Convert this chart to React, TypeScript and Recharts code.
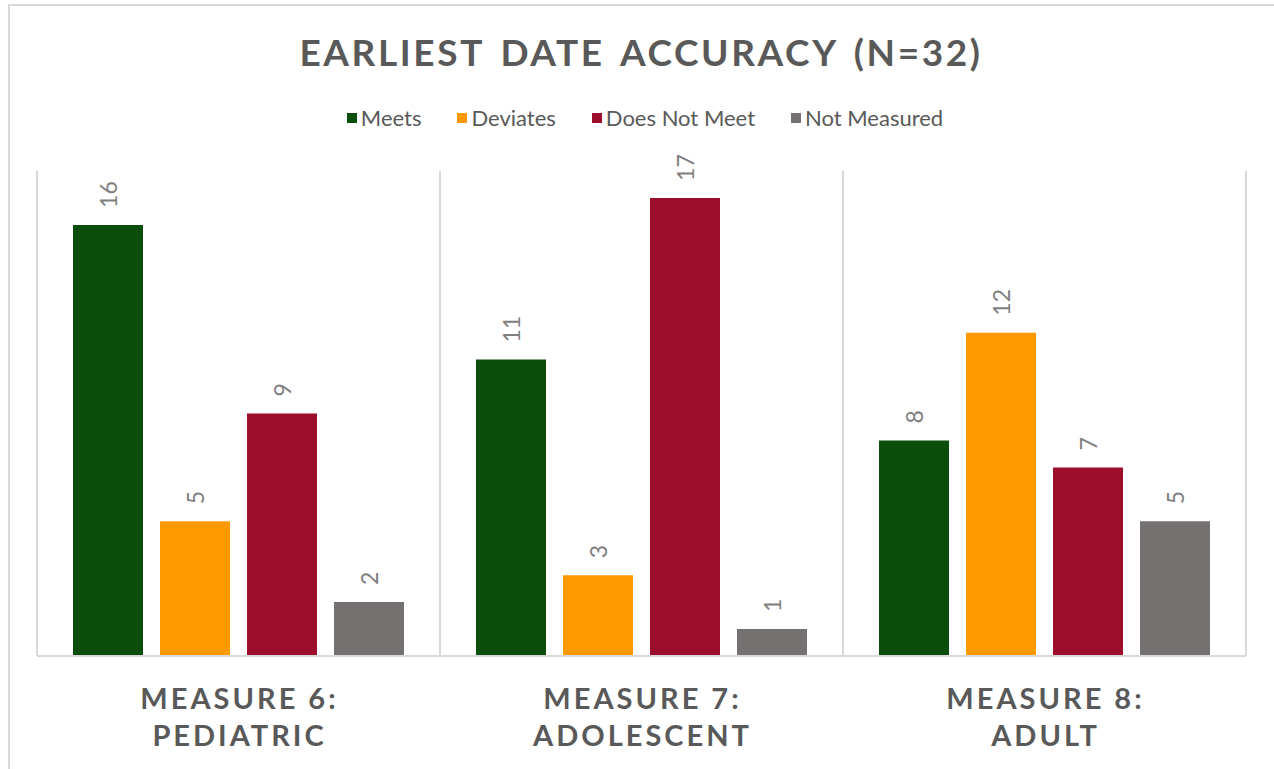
import { BarChart, Bar, XAxis, YAxis, CartesianGrid, LabelList } from 'recharts';

const categories = ['MEASURE 6:', 'MEASURE 7:', 'MEASURE 8:'];
const categorySubtitles = ['PEDIATRIC', 'ADOLESCENT', 'ADULT'];

const meets = [16, 11, 8];
const deviates = [5, 3, 12];
const doesNotMeet = [9, 17, 7];
const notMeasured = [2, 1, 5];

const seriesNames = ['Meets', 'Deviates', 'Does Not Meet', 'Not Measured'];
const seriesKeys = ['meets', 'deviates', 'doesNotMeet', 'notMeasured'];
const seriesColors = ['#0b4d0b', '#ff9900', '#9b0d2a', '#767171'];

const data = categories.map((name, i) => ({
  name,
  meets: meets[i],
  deviates: deviates[i],
  doesNotMeet: doesNotMeet[i],
  notMeasured: notMeasured[i],
}));

const FONT = 'Lato, "Open Sans", sans-serif';
const TEXT_COLOR = '#595959';
const GRID_COLOR = '#d9d9d9';

const CategoryTick = (props: any) => {
  const { x, y, payload } = props;
  const idx = categories.indexOf(payload.value);
  const style = { fontFamily: FONT, fontWeight: 700, fontSize: 29, letterSpacing: 3 };
  return (
    <g>
      <text x={x + 1} y={y + 53} textAnchor="middle" fill={TEXT_COLOR} style={style}>
        {payload.value}
      </text>
      <text x={x + 1} y={y + 90} textAnchor="middle" fill={TEXT_COLOR} style={style}>
        {categorySubtitles[idx]}
      </text>
    </g>
  );
};

const renderValueLabel = (props: any) => {
  const { x, y, width, value } = props;
  const cx = x + width / 2;
  const cy = y - 17;
  return (
    <text
      x={cx}
      y={cy}
      transform={`rotate(-90, ${cx}, ${cy})`}
      textAnchor="start"
      dominantBaseline="central"
      fill="#808080"
      style={{ fontFamily: FONT, fontSize: 23 }}
    >
      {value}
    </text>
  );
};

const App = () => {
  return (
    <div style={{ position: 'absolute', left: 0, top: 0, width: 1274, height: 769, overflow: 'hidden', background: '#fff' }}>
      <div
        style={{
          position: 'absolute',
          left: 8,
          top: 4,
          width: 1400,
          height: 900,
          borderTop: `2px solid ${GRID_COLOR}`,
          borderLeft: `2px solid ${GRID_COLOR}`,
        }}
      />
      <div
        style={{
          position: 'absolute',
          left: 0,
          top: 33,
          width: 1282,
          textAlign: 'center',
          fontFamily: FONT,
          fontWeight: 700,
          fontSize: 37,
          lineHeight: '37px',
          letterSpacing: 2.6,
          wordSpacing: 5,
          color: TEXT_COLOR,
        }}
      >
        EARLIEST DATE ACCURACY (N=32)
      </div>
      <div
        style={{
          position: 'absolute',
          left: 0,
          top: 106,
          width: 1290,
          display: 'flex',
          justifyContent: 'center',
          fontFamily: FONT,
          fontSize: 22,
          lineHeight: '24px',
          color: TEXT_COLOR,
        }}
      >
        {seriesNames.map((name, i) => (
          <div key={name} style={{ display: 'flex', alignItems: 'center', marginRight: i < seriesNames.length - 1 ? 36 : 0 }}>
            <span style={{ display: 'inline-block', width: 10, height: 10, background: seriesColors[i], marginRight: 4 }} />
            <span>{name}</span>
          </div>
        ))}
      </div>
      <div style={{ position: 'absolute', left: 0, top: 0 }}>
        <BarChart
          width={1274}
          height={769}
          data={data}
          margin={{ top: 171, right: 28, bottom: 13, left: 37 }}
          barCategoryGap={36}
          barGap={17}
        >
          <CartesianGrid
            horizontal={false}
            stroke={GRID_COLOR}
            strokeWidth={2}
            verticalCoordinatesGenerator={({ offset }: any) =>
              [0, 1, 2, 3].map((i) => offset.left + (i * offset.width) / categories.length)
            }
          />
          <XAxis
            dataKey="name"
            height={100}
            axisLine={{ stroke: GRID_COLOR, strokeWidth: 2 }}
            tickLine={false}
            tickSize={0}
            tickMargin={0}
            tick={<CategoryTick />}
            interval={0}
          />
          <YAxis hide domain={[0, 18]} />
          {seriesKeys.map((key, i) => (
            <Bar key={key} dataKey={key} name={seriesNames[i]} fill={seriesColors[i]} isAnimationActive={false}>
              <LabelList dataKey={key} content={renderValueLabel} />
            </Bar>
          ))}
        </BarChart>
      </div>
    </div>
  );
};

export default App;
